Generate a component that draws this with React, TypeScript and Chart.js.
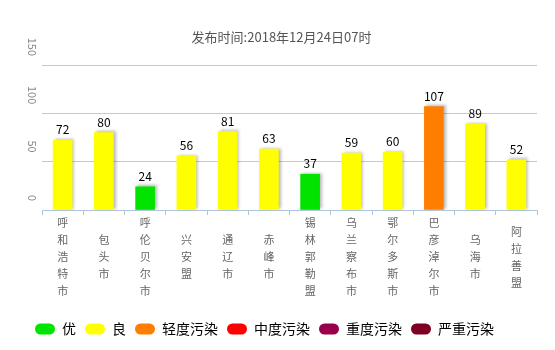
import React, { useEffect, useRef } from "react";
import { Chart, registerables } from "chart.js";

Chart.register(...registerables);

const titleText = "发布时间:2018年12月24日07时";
const categories = [
  "呼和浩特市", "包头市", "呼伦贝尔市", "兴安盟", "通辽市", "赤峰市",
  "锡林郭勒盟", "乌兰察布市", "鄂尔多斯市", "巴彦淖尔市", "乌海市", "阿拉善盟",
];
const aqiValues = [72, 80, 24, 56, 81, 63, 37, 59, 60, 107, 89, 52];
const levelNames = ["优", "良", "轻度污染", "中度污染", "重度污染", "严重污染"];
const levelColors = ["#00e400", "#ffff00", "#ff7e00", "#ff0000", "#99004c", "#7e0023"];
const levelLimits = [50, 100, 150, 200, 300, 500];
const yMin = 0;
const yMax = 150;
const yStep = 50;

const FONT = "'Noto Sans CJK SC', 'Noto Sans', sans-serif";

const colorFor = (v: number) => {
  const i = levelLimits.findIndex((l) => v <= l);
  return levelColors[i < 0 ? levelColors.length - 1 : i];
};

const barDecor = {
  id: "barDecor",
  beforeDatasetsDraw(chart: any) {
    const ctx = chart.ctx;
    ctx.save();
    ctx.shadowColor = "rgba(0,0,0,0.28)";
    ctx.shadowBlur = 3;
    ctx.shadowOffsetX = 2;
    ctx.shadowOffsetY = -1;
  },
  afterDatasetsDraw(chart: any) {
    const ctx = chart.ctx;
    ctx.restore();
    ctx.save();
    ctx.font = `12px ${FONT}`;
    ctx.fillStyle = "#000";
    ctx.textAlign = "center";
    ctx.textBaseline = "alphabetic";
    const meta = chart.getDatasetMeta(0);
    meta.data.forEach((bar: any, i: number) => {
      ctx.fillText(String(chart.data.datasets[0].data[i]), bar.x, bar.y - 6);
    });
    ctx.restore();
  },
};

export default function App() {
  const ref = useRef<HTMLCanvasElement>(null);
  useEffect(() => {
    if (!ref.current) return;
    const chart = new Chart(ref.current, {
      type: "bar",
      data: {
        labels: categories.map((c) => Array.from(c)),
        datasets: [
          {
            data: aqiValues,
            backgroundColor: aqiValues.map(colorFor),
            borderWidth: 0,
            barThickness: 19,
          },
        ],
      },
      options: {
        animation: false,
        responsive: true,
        maintainAspectRatio: false,
        layout: { padding: { left: 26, right: 18, top: 0, bottom: 4 } },
        scales: {
          x: {
            afterFit: (s: any) => {
              s.height = 103;
            },
            grid: {
              display: true,
              drawOnChartArea: false,
              drawTicks: true,
              tickLength: 5,
              color: "#b0c4de",
            },
            border: { display: true, color: "#b0c4de" },
            ticks: {
              autoSkip: false,
              maxRotation: 0,
              minRotation: 0,
              crossAlign: "center",
              padding: 8,
              color: "#666",
              font: { family: FONT, size: 11, lineHeight: 17 / 11 },
            },
          },
          y: {
            min: yMin,
            max: yMax,
            afterFit: (s: any) => {
              s.width = 16;
            },
            ticks: {
              stepSize: yStep,
              minRotation: -90,
              maxRotation: -90,
              padding: 10,
              labelOffset: -9,
              color: "#888",
              font: { family: FONT, size: 11 },
            },
            grid: { color: "#c8c8c8", drawTicks: false },
            border: { display: false },
          },
        },
        plugins: {
          title: {
            display: true,
            text: titleText,
            color: "#555",
            font: { family: FONT, size: 13, weight: "normal" },
            padding: { top: 29.2, bottom: 20.2 },
          },
          legend: {
            display: true,
            position: "bottom",
            align: "start",
            onClick: () => {},
            labels: {
              boxWidth: 20,
              boxHeight: 11,
              padding: 9,
              useBorderRadius: true,
              borderRadius: 5.5,
              color: "#333",
              font: { family: FONT, size: 14 },
              generateLabels: () =>
                levelNames.map((n, i) => ({
                  text: n,
                  fillStyle: levelColors[i],
                  strokeStyle: levelColors[i],
                  lineWidth: 0,
                  borderRadius: 5.5,
                  hidden: false,
                  datasetIndex: 0,
                })),
            },
          },
          tooltip: { enabled: false },
        },
      },
      plugins: [barDecor],
    } as any);
    return () => chart.destroy();
  }, []);
  return (
    <div style={{ position: "fixed", left: 0, top: 0, width: 555, height: 350 }}>
      <canvas ref={ref} />
    </div>
  );
}
